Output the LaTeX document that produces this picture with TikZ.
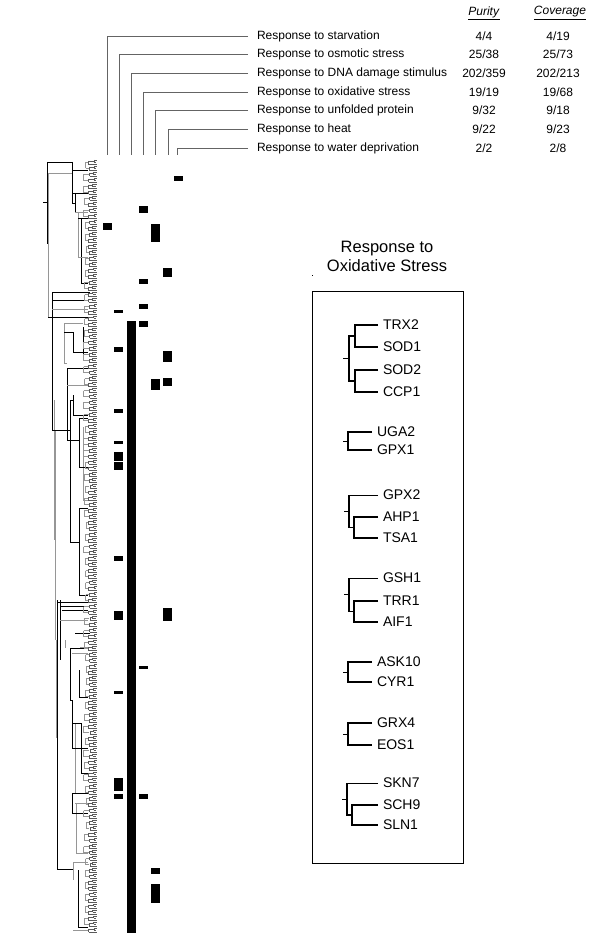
\documentclass[tikz,border=0pt]{standalone}
\usepackage{fontspec}
\setmainfont{Liberation Sans}
\usetikzlibrary{positioning,calc}
\definecolor{TreeGray}{RGB}{150,150,150}
\definecolor{LeafGray}{RGB}{90,90,90}
\definecolor{LeadGray}{RGB}{100,100,100}

\begin{document}
\begin{tikzpicture}[x=1pt,y=-1pt,
    term/.style={anchor=west,inner sep=0pt,outer xsep=9pt,font=\fontsize{12}{14}\selectfont},
    score/.style={inner sep=0pt,font=\fontsize{12}{14}\selectfont},
    leader/.style={draw=LeadGray,line width=0.8pt},
    gene/.style={anchor=west,inner sep=0pt,outer xsep=5pt,font=\fontsize{14}{16}\selectfont},
    gthick/.style={line width=1.8pt},
    gthin/.style={line width=0.9pt},
    dendro/.style={line width=0.6pt},
    hit/.style={fill=black}
  ]
  \useasboundingbox (0,0) rectangle (600,941);

  % header: GO terms with purity and coverage
  \node[score] (purity) at (484,13) {\underline{\textit{Purity}}};
  \node[score] (coverage) at (560,13) {\underline{\textit{Coverage}}};
  \foreach \i/\x/\y/\txt/\p/\c in {
      1/107/36/{Response to starvation}/{4/4}/{4/19},
      2/119/54/{Response to osmotic stress}/{25/38}/{25/73},
      3/131/73/{Response to DNA damage stimulus}/{202/359}/{202/213},
      4/143/92/{Response to oxidative stress}/{19/19}/{19/68},
      5/155/110/{Response to unfolded protein}/{9/32}/{9/18},
      6/168/129/{Response to heat}/{9/22}/{9/23},
      7/177/148/{Response to water deprivation}/{2/2}/{2/8}}{
    \node[term] (term\i) at (248,\y) {\txt};
    \node[score] (pur\i) at (484,\y) {\p};
    \node[score] (cov\i) at (558,\y) {\c};
    \coordinate (col\i) at (\x,155);
    \draw[leader] (term\i.west) -| (col\i);
  }

  % dendrogram: main branches
  \foreach \x/\ya/\yb/\c in {47/162/243/black, 48/173/317/TreeGray, 52/292/430/black,
      54/400/540/TreeGray, 55/430/640/TreeGray, 57/600/870/black, 56/640/738/TreeGray,
      72/162/203/black, 75/193/213/black, 78/212/257/TreeGray, 81/218/283/black,
      64/323/363/TreeGray, 73/332/352/black, 83/327/360/black, 67/368/440/black,
      70/400/542/black, 73/395/415/black, 79/418/467/black, 83/427/500/TreeGray,
      79/508/595/black, 60/600/660/black, 65/640/648/TreeGray, 70/648/700/black,
      79/670/697/black, 72/700/748/black, 75/723/793/TreeGray, 81/723/773/black,
      72/793/813/black, 76/803/853/TreeGray, 73/862/880/TreeGray, 78/870/927/black}
    \draw[dendro,\c] (\x,\ya) -- (\x,\yb);
  \foreach \y/\xa/\xb/\c in {202/43/47/black, 162/47/72/black, 173/48/72/TreeGray,
      170/72/88/black, 193/72/88/black, 203/72/75/black, 212/75/88/TreeGray,
      218/78/88/black, 243/47/48/black, 257/78/88/TreeGray, 283/81/88/black,
      292/52/90/black, 300/52/88/black, 309/52/88/TreeGray, 317/48/88/black,
      323/64/83/TreeGray, 332/64/73/black, 352/73/88/black, 360/83/88/black,
      363/64/67/TreeGray, 368/67/88/black, 385/67/88/TreeGray, 400/70/73/black,
      415/73/88/black, 430/52/70/black, 418/79/88/black, 440/67/79/black,
      467/79/88/black, 500/83/88/TreeGray, 508/79/88/black, 542/70/79/black,
      595/79/88/black, 602/57/90/black, 606/60/88/black, 610/62/88/black,
      620/60/88/TreeGray, 633/75/90/black, 647/80/90/TreeGray, 648/70/88/black,
      653/72/88/TreeGray, 697/79/88/black, 700/70/72/black, 723/72/81/black,
      748/72/88/black, 773/81/88/black, 793/72/88/black, 803/75/88/TreeGray,
      813/72/88/black, 853/76/88/TreeGray, 862/73/88/TreeGray, 869/57/73/black,
      927/78/88/black, 930/73/88/TreeGray}
    \draw[dendro,\c] (\xa,\y) -- (\xb,\y);

  % dendrogram: small clusters near the leaves
  \pgfmathsetseed{7}
  \foreach \y in {162.5,174.5,...,922.5}{
    \pgfmathsetmacro\xm{83+3*rnd}
    \draw[dendro,TreeGray] (\xm,\y) -- (\xm,\y+6) (\xm,\y) -- (89,\y) (\xm,\y+6) -- (89,\y+6);
  }
  \foreach \y in {160,166,...,928}{
    \pgfmathsetmacro\xa{88+2*rnd}
    \pgfmathsetmacro\xb{92+2*rnd}
    \draw[dendro,LeafGray] (\xa,\y+1) -- (\xa,\y+4) (\xa,\y+1) -- (\xb,\y+1) (\xa,\y+4) -- (97,\y+4)
      (\xb,\y) -- (\xb,\y+2) (\xb,\y) -- (97,\y) (\xb,\y+2) -- (96,\y+2);
  }

  % annotation matrix
  \foreach \x/\ya/\yb in {178.5/176/181, 143.5/206/213, 107/223/230, 155/224/242,
      167/268/277, 143.5/279/284, 143.5/304/309, 118.5/310/313, 143.5/321/327,
      131.5/321/933, 118.5/347/352, 167/351/362, 155/379/390, 167/378/386,
      118.5/409/413, 118.5/441/444, 118.5/452/461, 118.5/462/470, 118.5/556/561,
      118.5/611/620, 167/608/621, 143.5/666/669, 118.5/691/694, 118.5/778/791,
      118.5/794/799, 143.5/794/799, 155/868/874, 155/884/903}
    \fill[hit] (\x-4.5,\ya) rectangle (\x+4.5,\yb);

  % oxidative stress panel
  \fill (311.5,274.5) rectangle (313,276);
  \node[align=center,font=\fontsize{16.5}{19}\selectfont] (oxtitle) at (387,256)
    {Response to\\Oxidative Stress};
  \node[draw,line width=1pt,anchor=north west,minimum width=151pt,minimum height=572pt,
    inner sep=0pt] (oxbox) at (312,291) {};

  \node[gene] (TRX2) at (378,325) {TRX2};
  \node[gene] (SOD1) at (378,347) {SOD1};
  \node[gene] (SOD2) at (378,370) {SOD2};
  \node[gene] (CCP1) at (378,392) {CCP1};
  \node[gene] (UGA2) at (372,432) {UGA2};
  \node[gene] (GPX1) at (372,450) {GPX1};
  \node[gene] (GPX2) at (378,495) {GPX2};
  \node[gene] (AHP1) at (378,517) {AHP1};
  \node[gene] (TSA1) at (378,538) {TSA1};
  \node[gene] (GSH1) at (378,578) {GSH1};
  \node[gene] (TRR1) at (378,601) {TRR1};
  \node[gene] (AIF1) at (378,622) {AIF1};
  \node[gene] (ASK10) at (372,662) {ASK10};
  \node[gene] (CYR1) at (372,682) {CYR1};
  \node[gene] (GRX4) at (372,723) {GRX4};
  \node[gene] (EOS1) at (372,745) {EOS1};
  \node[gene] (SKN7) at (378,783) {SKN7};
  \node[gene] (SCH9) at (378,805) {SCH9};
  \node[gene] (SLN1) at (378,825) {SLN1};

  % four-gene cluster
  \draw[gthick] (TRX2.west) -- ++(-23,0) |- (SOD1.west);
  \draw[gthick] (SOD2.west) -- ++(-23,0) |- (CCP1.west);
  \coordinate (g1a) at ($(TRX2.west)!0.5!(SOD1.west)+(-23,0)$);
  \coordinate (g1b) at ($(SOD2.west)!0.5!(CCP1.west)+(-23,0)$);
  \draw[gthick] (g1a) -- ++(-6,0) |- (g1b);
  \draw[gthin] ($(g1a)!0.5!(g1b)+(-6,0)$) -- ++(-6,0);

  % two-gene clusters
  \foreach \ga/\gb in {UGA2/GPX1, ASK10/CYR1, GRX4/EOS1}{
    \draw[gthick] (\ga.west) -- ++(-24,0) |- (\gb.west);
    \draw[gthin] ($(\ga.west)!0.5!(\gb.west)+(-24,0)$) -- ++(-5,0);
  }

  % three-gene clusters
  \foreach \ga/\gb/\gc/\d in {GPX2/AHP1/TSA1/29, GSH1/TRR1/AIF1/29, SKN7/SCH9/SLN1/31}{
    \draw[gthick] (\gb.west) -- ++(-\d+5,0) |- (\gc.west);
    \coordinate (sub) at ($(\gb.west)!0.5!(\gc.west)+(-\d+5,0)$);
    \draw[gthin] (\ga.west) -- ++(-\d,0) coordinate (top);
    \draw[gthick] (top) |- (sub);
    \draw[gthin] ($(top)!0.5!(top |- sub)$) -- ++(-5,0);
  }
\end{tikzpicture}
\end{document}
